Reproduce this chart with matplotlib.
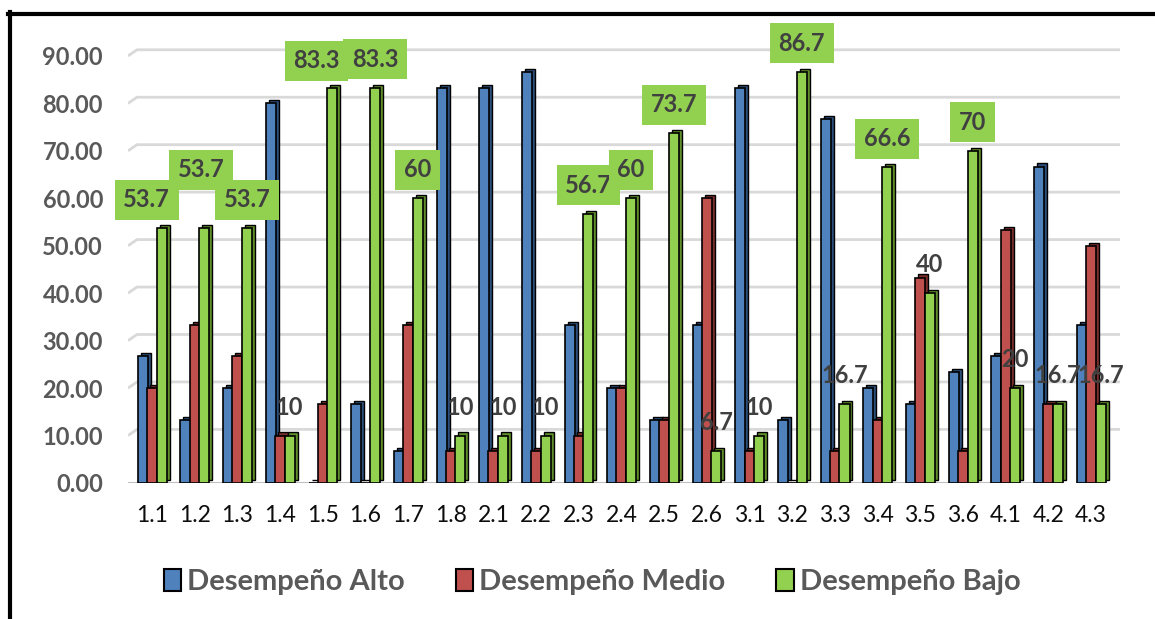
import numpy as np
import matplotlib.pyplot as plt
from matplotlib.patches import Patch
from matplotlib.lines import Line2D
from matplotlib.transforms import blended_transform_factory

# Data
categories = ['1.1', '1.2', '1.3', '1.4', '1.5', '1.6', '1.7', '1.8',
              '2.1', '2.2', '2.3', '2.4', '2.5', '2.6',
              '3.1', '3.2', '3.3', '3.4', '3.5', '3.6',
              '4.1', '4.2', '4.3']
alto = [26.7, 13.3, 20.0, 80.0, 0.0, 16.7, 6.7, 83.3,
        83.3, 86.7, 33.3, 20.0, 13.3, 33.3,
        83.3, 13.3, 76.7, 20.0, 16.7, 23.3,
        26.7, 66.7, 33.3]
medio = [20.0, 33.3, 26.7, 10.0, 16.7, 0.0, 33.3, 6.7,
         6.7, 6.7, 10.0, 20.0, 13.3, 60.0,
         6.7, 0.0, 6.7, 13.3, 43.3, 6.7,
         53.3, 16.7, 50.0]
bajo = [53.7, 53.7, 53.7, 10.0, 83.3, 83.3, 60.0, 10.0,
        10.0, 10.0, 56.7, 60.0, 73.7, 6.7,
        10.0, 86.7, 16.7, 66.6, 40.0, 70.0,
        20.0, 16.7, 16.7]
bajo_labels = ['53.7', '53.7', '53.7', '10', '83.3', '83.3', '60', '10',
               '10', '10', '56.7', '60', '73.7', '6.7',
               '10', '86.7', '16.7', '66.6', '40', '70',
               '20', '16.7', '16.7']
series_names = ['Desempeño Alto', 'Desempeño Medio', 'Desempeño Bajo']
yticks = [0, 10, 20, 30, 40, 50, 60, 70, 80, 90]

# style
front_colors = ['#4F81BD', '#C0504D', '#92D050']
side_colors = ['#2B4E7A', '#7A2E2C', '#5F8F2A']
label_nudge = {0: (-0.35, 0.0), 1: (-0.07, 6.3), 4: (-0.37, -0.3)}

plt.rcParams['font.family'] = ['Lato', 'DejaVu Sans']

fig = plt.figure(figsize=(11.55, 6.19), dpi=100)
ax = fig.add_axes([128 / 1155, 1 - 483 / 619, 992 / 1155, 456 / 619])
ax.set_xlim(-0.562, 22.68)
ax.set_ylim(0, 96.1)

x = np.arange(len(categories))
w = 0.235
offsets = [-0.215, 0.0, 0.225]
dx, dy = 0.07, 0.65

for i, vals in enumerate([alto, medio, bajo]):
    z = 3 + i
    ax.bar(x + offsets[i] + dx, vals, width=w, bottom=dy, color=side_colors[i],
           edgecolor='black', linewidth=1.0, zorder=z)
    ax.bar(x + offsets[i], vals, width=w, color=front_colors[i],
           edgecolor='black', linewidth=1.2, zorder=z + 0.5)

# data labels on the "Bajo" series
for i, (v, t) in enumerate(zip(bajo, bajo_labels)):
    ndx, ndy = label_nudge.get(i, (0.0, 0.0))
    kw = dict(ha='center', va='center', fontsize=17, fontweight='bold',
              color='#404040', zorder=10, clip_on=False)
    if v >= 50:
        kw['bbox'] = dict(boxstyle='square,pad=0.36', fc='#92D050', ec='none')
    ax.text(x[i] + offsets[2] + ndx, v + 6.0 + ndy, t, **kw)

# back-wall gridlines (3D look: shifted up/right with a short diagonal at the left)
trans = blended_transform_factory(ax.transAxes, ax.transData)
for v in yticks[1:]:
    ax.plot([0, 9 / 992, 1], [v, v + 1.3, v + 1.3], color='#D9D9D9',
            linewidth=2, transform=trans, zorder=1, solid_capstyle='butt')
ax.axhline(0, xmin=0, xmax=0.932, color='#BFBFBF', linewidth=2.2, zorder=2)

ax.set_yticks(yticks)
ax.yaxis.set_major_formatter(plt.FormatStrFormatter('%.2f'))
ax.set_xticks(x)
ax.set_xticklabels(categories)
for s in ax.spines.values():
    s.set_visible(False)
ax.tick_params(axis='y', length=0, pad=18, labelsize=17, labelcolor='#595959')
ax.tick_params(axis='x', length=0, pad=16, labelsize=16.5, labelcolor='#0D0D0D')
for lab in ax.get_yticklabels():
    lab.set_fontweight('bold')

handles = [Patch(facecolor=c, edgecolor='black', linewidth=1.5) for c in front_colors]
fig.legend(handles, series_names, loc='center', bbox_to_anchor=(592 / 1155, 1 - 582 / 619),
           ncol=3, frameon=False, handlelength=0.6, handleheight=0.8,
           handletextpad=0.2, columnspacing=1.75,
           prop={'size': 21, 'weight': 'bold'}, labelcolor='#595959')

# outer frame (top and left edges visible)
fig.add_artist(Line2D([8 / 1155, 1], [1 - 14 / 619] * 2, color='black', linewidth=3))
fig.add_artist(Line2D([10 / 1155] * 2, [1 - 12 / 619, 0], color='black', linewidth=3))

fig.savefig('out.png', dpi=100)
